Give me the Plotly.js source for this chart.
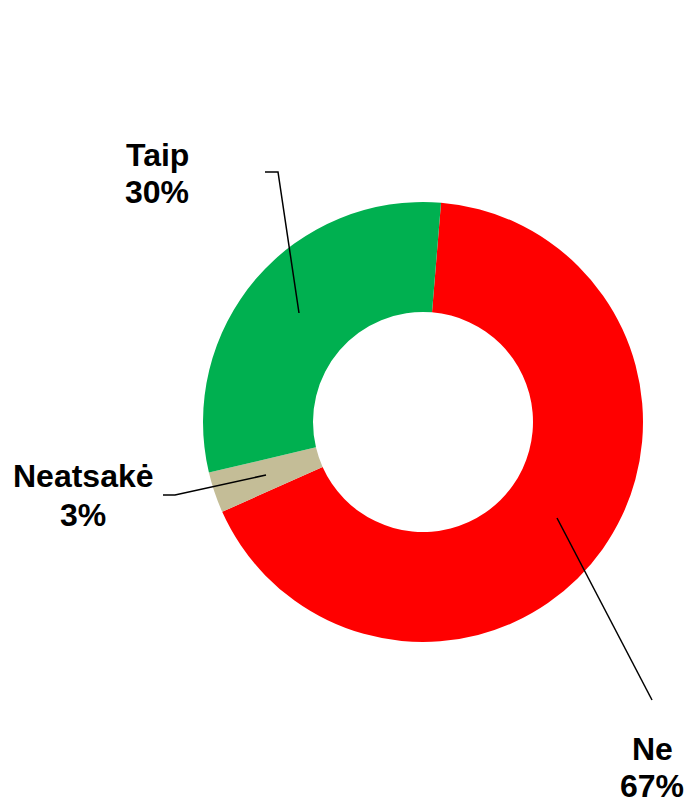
<!DOCTYPE html>
<html>
<head>
<meta charset="utf-8">
<script src="https://cdn.plot.ly/plotly-3.0.1.min.js"></script>
<style>html,body{margin:0;padding:0;background:#fff;}#chart{width:687px;height:797px;}</style>
</head>
<body>
<div id="chart"></div>
<script>
var categories = ["Ne", "Neatsakė", "Taip"];
var values = [67, 3, 30];
var colors = ["#FF0000", "#C4BD97", "#00B050"];

var W = 687, H = 797;
function px(x) { return x / W; }
function py(y) { return 1 - y / H; }

// label placement (pixels): [x, y of name line, y of percent line]
var labelPos = [[652, 749, 786], [83, 476, 515], [157, 155, 192]];
// leader line paths (pixels)
var leaders = [
  [[557, 518], [652, 700]],
  [[163, 495], [175, 495], [266, 475]],
  [[265, 172], [278, 172], [299, 313]]
];

var total = values.reduce(function (a, b) { return a + b; }, 0);
var annotations = [];
var shapes = [];
categories.forEach(function (c, i) {
  var pct = Math.round(values[i] / total * 100) + "%";
  var p = labelPos[i];
  [c, pct].forEach(function (t, j) {
    annotations.push({
      text: "<b>" + t + "</b>", x: px(p[0]), y: py(p[1 + j]),
      xref: "paper", yref: "paper", xanchor: "center", yanchor: "middle",
      showarrow: false,
      font: { family: "Liberation Sans, Arial, sans-serif", size: 32, color: "#000" }
    });
  });
  var path = leaders[i].map(function (pt, k) {
    return (k === 0 ? "M " : "L ") + px(pt[0]) + "," + py(pt[1]);
  }).join(" ");
  shapes.push({ type: "path", xref: "paper", yref: "paper", path: path,
    line: { color: "#000", width: 1.5 } });
});

var cx = 423, cy = 422, r = 220;
var trace = {
  type: "pie",
  labels: categories,
  values: values,
  marker: { colors: colors, line: { width: 0 } },
  hole: 0.5,
  sort: false,
  direction: "clockwise",
  rotation: 4.7,
  textinfo: "none",
  hoverinfo: "label+percent",
  showlegend: false,
  domain: { x: [px(cx - r), px(cx + r)], y: [py(cy + r), py(cy - r)] }
};

var layout = {
  width: W, height: H,
  margin: { l: 0, r: 0, t: 0, b: 0 },
  paper_bgcolor: "#fff",
  showlegend: false,
  annotations: annotations,
  shapes: shapes
};

Plotly.newPlot("chart", [trace], layout, { displayModeBar: false, staticPlot: true });
</script>
</body>
</html>
